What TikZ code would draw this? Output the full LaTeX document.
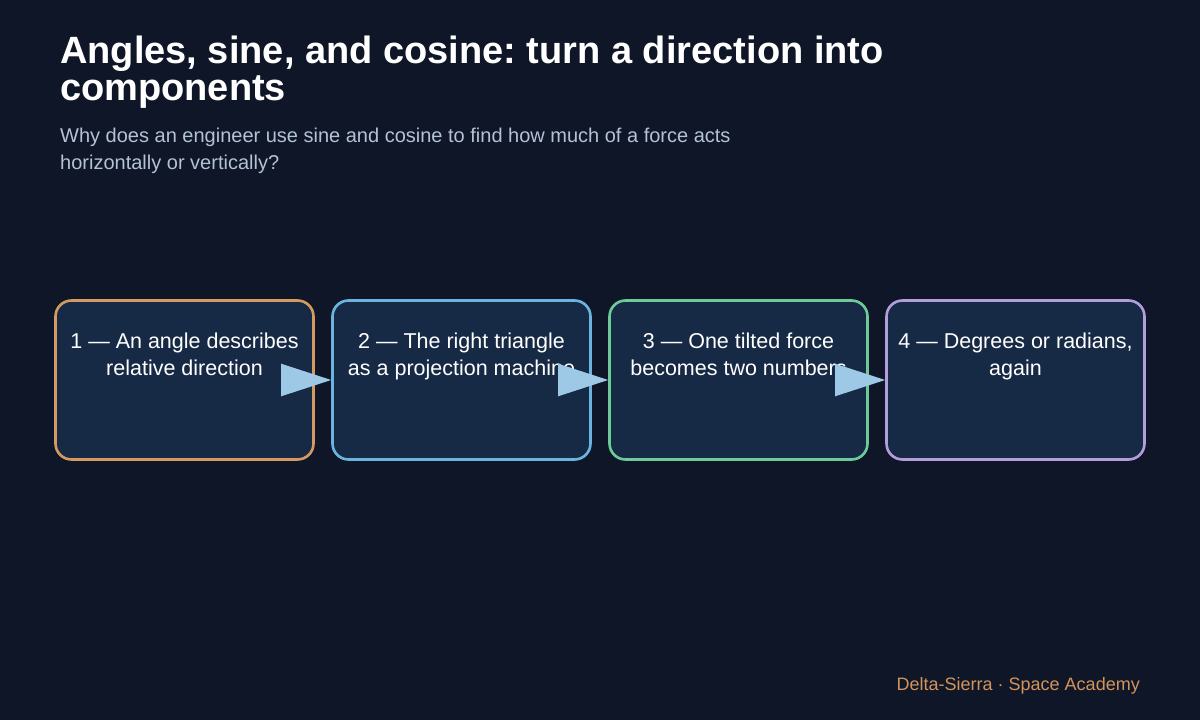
\documentclass[tikz,border=0pt]{standalone}
\usepackage{fontspec}
\setmainfont{Liberation Sans}
\usetikzlibrary{arrows.meta}
\frenchspacing
\definecolor{bg}{HTML}{0E1628}
\definecolor{boxfill}{HTML}{172A45}
\definecolor{cA}{HTML}{D49A5F}
\definecolor{cB}{HTML}{6CB4E0}
\definecolor{cC}{HTML}{6DCB99}
\definecolor{cD}{HTML}{B39DDB}
\definecolor{arrowc}{HTML}{9DC8E6}
\definecolor{subc}{HTML}{B4C2D6}
\definecolor{footc}{HTML}{D4935A}
\tikzset{
  stepbox/.style={draw=#1, fill=boxfill, line width=2.6pt, rounded corners=16pt,
    minimum width=258pt, minimum height=159pt, inner sep=0pt},
  boxtext/.style={text=white, font=\fontsize{21.5}{27}\selectfont, text width=250pt,
    align=flush center, anchor=base, inner sep=0pt},
  arr/.style={draw=arrowc, line width=2pt, -{Triangle[length=50pt,width=32pt,fill=arrowc]}},
}
\begin{document}
\begin{tikzpicture}[x=1pt,y=-1pt]
\path[fill=bg] (0,0) rectangle (1200,720);
\useasboundingbox (0,0) rectangle (1200,720);
\node[anchor=base west, inner sep=0pt, text=white, align=flush left, text width=1000pt,
  font=\fontsize{38}{37}\bfseries\selectfont\frenchspacing] (title) at (60,63)
  {Angles, sine, and cosine: turn a direction into\\components};
\node[anchor=base west, inner sep=0pt, text=subc, align=flush left, text width=1000pt,
  font=\fontsize{20}{27}\selectfont] (sub) at (60,142)
  {Why does an engineer use sine and cosine to find how much of a force acts\\horizontally or vertically?};
\node[stepbox=cA] (b1) at (184.5,380) {};
\node[stepbox=cB] (b2) at (461.5,380) {};
\node[stepbox=cC] (b3) at (738.5,380) {};
\node[stepbox=cD] (b4) at (1015.5,380) {};
\node[boxtext] (t1) at (184.5,348) {1 — An angle describes\\relative direction};
\node[boxtext] (t2) at (461.5,348) {2 — The right triangle\\as a projection machine};
\node[boxtext] (t3) at (738.5,348) {3 — One tilted force\\becomes two numbers};
\node[boxtext] (t4) at (1015.5,348) {4 — Degrees or radians,\\again};
\draw[arr] (b1.east) -- (b2.west);
\draw[arr] (b2.east) -- (b3.west);
\draw[arr] (b3.east) -- (b4.west);
\node[anchor=base east, inner sep=0pt, text=footc, font=\fontsize{18}{22}\selectfont] (foot) at (1140,690)
  {Delta-Sierra · Space Academy};
\end{tikzpicture}
\end{document}
